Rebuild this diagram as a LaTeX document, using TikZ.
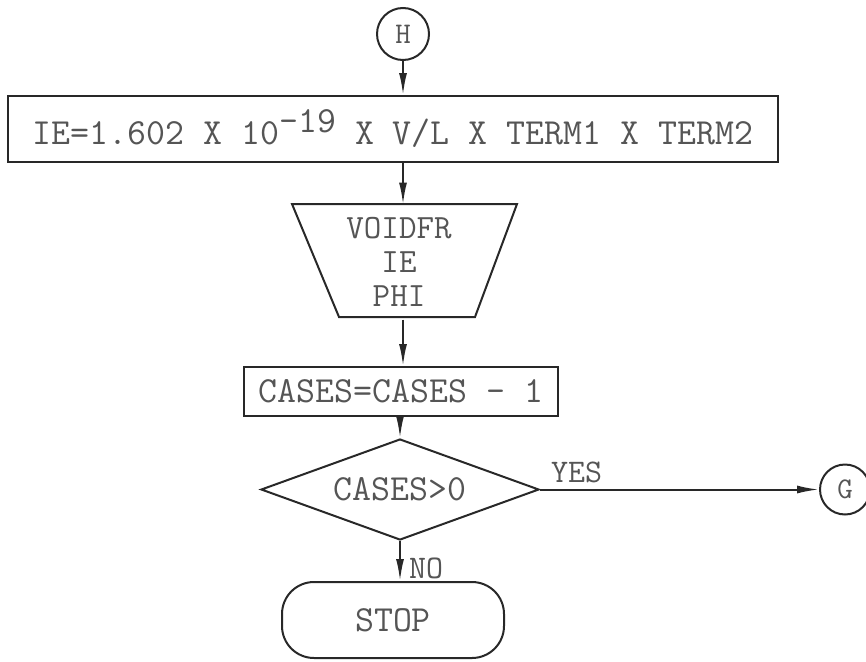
\documentclass[tikz,border=0pt]{standalone}
\usepackage{fontspec}
\usepackage{tikz}
\usetikzlibrary{arrows.meta,shapes.geometric}
\definecolor{ink_line}{RGB}{40,40,40}
\definecolor{ink_text}{RGB}{85,85,85}

\tikzset{
  shapeline/.style={draw=ink_line, line width=2pt},
  flowbox/.style={shapeline, rectangle, inner sep=0pt, text=ink_text,
    font=\ttfamily\fontsize{36.8}{33}\selectfont},
  connector/.style={circle, shapeline, inner sep=0pt, minimum size=52pt,
    text=ink_text, font=\ttfamily\fontsize{30}{30}\selectfont},
  flow/.style={draw=ink_line, line width=2pt, -{Latex[length=22pt, width=8pt]}},
  lbl/.style={text=ink_text, inner sep=0pt,
    font=\ttfamily\fontsize{33}{40}\selectfont},
}

\begin{document}
\begin{tikzpicture}[x=1pt, y=-1pt]
        \useasboundingbox (0,0) rectangle (866,661);
        % Entry connector
        \node[connector] (H) at (403,34) {H};
        % Current formula
        \node[flowbox, minimum width=770pt, minimum height=66pt] (IE)
          at (393,129)
          {IE=1.602 X 10\raisebox{12pt}{-19} X V/L X TERM1 X TERM2};
        % Output block (trapezoid)
        \draw[shapeline] (292,204) -- (517,204) -- (475,317)
          -- (339,317) -- cycle;
        \node[flowbox, draw=none, align=center, minimum height=113pt,
          font=\ttfamily\fontsize{34}{34}\selectfont] (out)
          at (399,262) {VOIDFR\\IE\\PHI};
        % Counter
        \node[flowbox, minimum width=314pt, minimum height=49pt] (dec)
          at (401,391.5) {CASES=CASES - 1};
        % Test
        \node[flowbox, diamond, aspect=2.75, minimum width=278pt,
          minimum height=101pt] (chk) at (400,489.5) {CASES>0};
        % Exits
        \node[connector, minimum size=50pt] (G) at (845,489.5) {G};
        \node[flowbox, rounded corners=32pt, minimum width=222pt,
          minimum height=76pt] (stop) at (393,620) {STOP};
        % Flow lines
        \draw[flow] (H) -- (H |- IE.north);
        \draw[flow] (IE.south -| H) -- (out.north -| H);
        \draw[flow] (out.south -| H) -- (dec.north -| H);
        \draw[flow] (dec.south -| chk.north) -- (chk.north);
        \draw[flow] (chk.east) -- node[pos=0, lbl, anchor=base west,
          xshift=10pt, yshift=7pt] {YES} (G);
        \draw[flow] (chk.south) -- node[pos=1, lbl, anchor=base west,
          xshift=8pt, yshift=3pt] {NO} (chk.south |- stop.north);
      \end{tikzpicture}
\end{document}
